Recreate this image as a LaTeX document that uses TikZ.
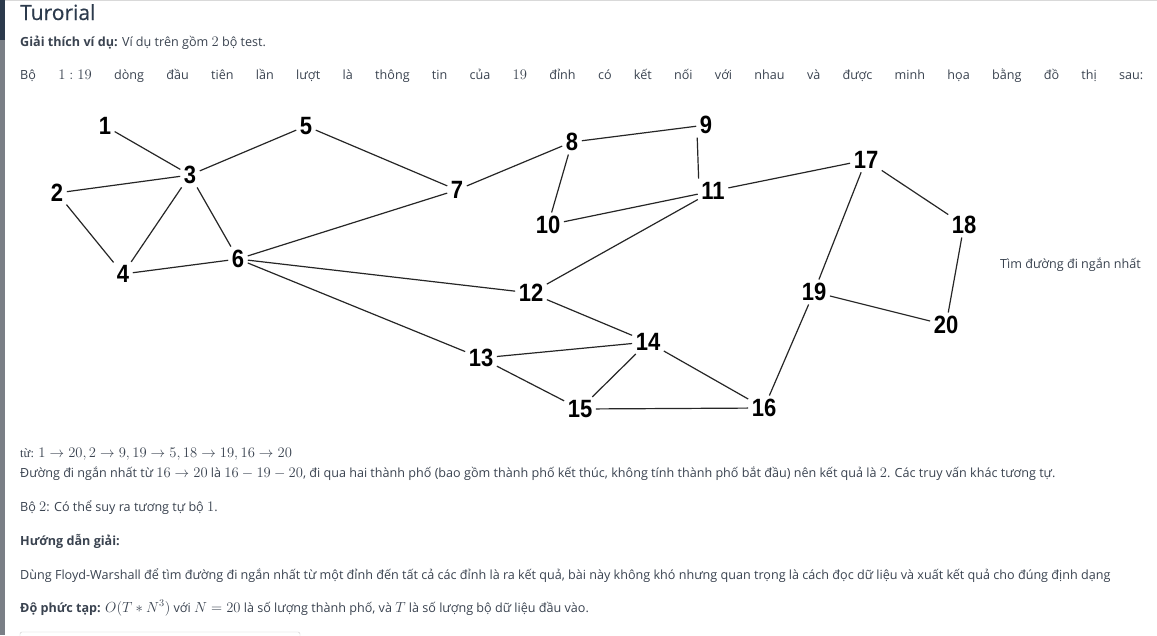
\RequirePackage{fix-cm}
\documentclass[tikz,border=0pt]{standalone}
\usepackage{fontspec}
\usepackage{amsmath,amssymb}
\usepackage{xcolor}
\usepackage{tikz}
\usetikzlibrary{positioning}

\setmainfont{Open Sans}
\newfontfamily\vtxfont[FakeStretch=0.88]{Liberation Sans}
\newfontfamily\serifvn{Liberation Serif}
\newfontfamily\titlefont[FakeBold=0.35]{Open Sans}
\definecolor{txtgray}{HTML}{3A4350}
\definecolor{titlecol}{HTML}{2C3A4C}
\definecolor{sidebar}{HTML}{7A7F86}
\newcommand{\km}[1]{{\fontsize{14.6}{15}\selectfont\mbox{$#1$}}}

\begin{document}
\begin{tikzpicture}[x=1pt, y=-1pt,
    vtx/.style={inner sep=2.5pt, font=\vtxfont\bfseries\fontsize{25}{25}\selectfont},
    edge/.style={line width=1.2pt, black!85, shorten >=1pt, shorten <=1pt},
    body/.style={anchor=base west, inner sep=0pt, text=txtgray, font=\fontsize{12.6}{15}\selectfont}]
    \useasboundingbox (0,0) rectangle (1157,635);
    \fill[white] (0,0) rectangle (1157,635);

    % screen edges
    \fill[sidebar] (0,0) rectangle (5,635);
    \fill[titlecol] (0,0) rectangle (5,40);
    \draw[black!15] (5,0.5) -- (1157,0.5);

    % heading and introduction
    \node[body, text=titlecol, font=\titlefont\fontsize{21}{24}\selectfont] (title) at (20,20) {Turorial};
    \node[body] (intro) at (20,46) {\textbf{Giải thích ví dụ:} Ví dụ trên gồm \km{2} bộ test.};
    \node[body] (lead) at (20,79) {\makebox[1123pt][s]{Bộ \km{1:19} dòng đầu tiên lần lượt là thông tin của \km{19} đỉnh có kết nối với nhau và được minh họa bằng đồ thị sau:}};

    % vertices of the graph
    \node[vtx] (v1) at (105,126) {1};
    \node[vtx] (v2) at (57,193) {2};
    \node[vtx] (v3) at (190,175) {3};
    \node[vtx] (v4) at (123,274) {4};
    \node[vtx] (v5) at (306,126) {5};
    \node[vtx] (v6) at (238,259) {6};
    \node[vtx] (v7) at (457,190) {7};
    \node[vtx] (v8) at (572,142) {8};
    \node[vtx] (v9) at (706,125) {9};
    \node[vtx] (v10) at (548,225) {10};
    \node[vtx] (v11) at (713,191) {11};
    \node[vtx] (v12) at (531,293) {12};
    \node[vtx] (v13) at (481,358) {13};
    \node[vtx] (v14) at (648,342) {14};
    \node[vtx] (v15) at (580,409) {15};
    \node[vtx] (v16) at (764,408) {16};
    \node[vtx] (v17) at (866,160) {17};
    \node[vtx] (v18) at (964,225) {18};
    \node[vtx] (v19) at (814,292) {19};
    \node[vtx] (v20) at (946,325) {20};

    % edges
    \draw[edge] (v1) -- (v3);
    \draw[edge] (v2) -- (v3);
    \draw[edge] (v2) -- (v4);
    \draw[edge] (v3) -- (v4);
    \draw[edge] (v3) -- (v5);
    \draw[edge] (v3) -- (v6);
    \draw[edge] (v4) -- (v6);
    \draw[edge] (v5) -- (v7);
    \draw[edge] (v6) -- (v7);
    \draw[edge] (v6) -- (v12);
    \draw[edge] (v6) -- (v13);
    \draw[edge] (v7) -- (v8);
    \draw[edge] (v8) -- (v9);
    \draw[edge] (v8) -- (v10);
    \draw[edge] (v9.south west) -- (v11.north west);
    \draw[edge] (v10) -- (v11);
    \draw[edge] (v11) -- (v12);
    \draw[edge] (v11) -- (v17);
    \draw[edge] (v12) -- (v14);
    \draw[edge] (v13) -- (v14);
    \draw[edge] (v13) -- (v15);
    \draw[edge] (v14) -- (v15);
    \draw[edge] (v14) -- (v16);
    \draw[edge] (v15) -- (v16);
    \draw[edge] (v16) -- (v19);
    \draw[edge] (v17) -- (v18);
    \draw[edge] (v17) -- (v19);
    \draw[edge] (v18) -- (v20);
    \draw[edge] (v19) -- (v20);

    \node[body] (task) at (1000,268) {Tìm đường đi ngắn nhất};

    % explanation below the graph
    \node[body] (queries) at (20,457) {{\serifvn từ:} \km{1\to20, 2\to9, 19\to5, 18\to19, 16\to20}};
    \node[body] (answer) at (20,477) {Đường đi ngắn nhất từ \km{16\to20} là \km{16-19-20}, đi qua hai thành phố (bao gồm thành phố kết thúc, không tính thành phố bắt đầu) nên kết quả là \km{2}. Các truy vấn khác tương tự.};
    \node[body] (second) at (20,511) {Bộ \km{2}: Có thể suy ra tương tự bộ \km{1}.};
    \node[body] (guide) at (20,545) {\textbf{Hướng dẫn giải:}};
    \node[body] (method) at (20,579) {Dùng Floyd-Warshall để tìm đường đi ngắn nhất từ một đỉnh đến tất cả các đỉnh là ra kết quả, bài này không khó nhưng quan trọng là cách đọc dữ liệu và xuất kết quả cho đúng định dạng};
    \node[body] (cost) at (20,612) {\textbf{Độ phức tạp:} \km{O(T*N^3)} với \km{N=20} là số lượng thành phố, và \km{T} là số lượng bộ dữ liệu đầu vào.};

    % box cut off at the bottom
    \draw[black!20, rounded corners=2pt] (20,640) -- (20,632) -- (300,632) -- (300,640);
\end{tikzpicture}
\end{document}
